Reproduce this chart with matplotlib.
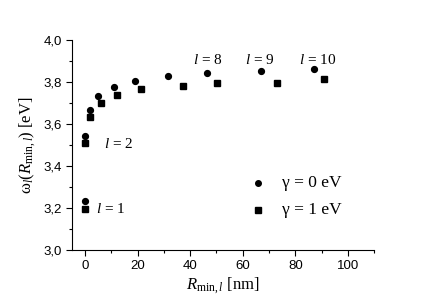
import matplotlib
matplotlib.use("Agg")
import matplotlib.pyplot as plt
from matplotlib.ticker import MultipleLocator

plt.rcParams['font.family'] = ['Liberation Sans', 'DejaVu Sans']
plt.rcParams['mathtext.fontset'] = 'custom'
plt.rcParams['mathtext.rm'] = 'Liberation Serif'
plt.rcParams['mathtext.it'] = 'Liberation Serif:italic'
plt.rcParams['mathtext.bf'] = 'Liberation Serif:bold'

# gamma = 0 eV
r_g0 = [0, 0, 1.9, 4.9, 11.1, 19.1, 31.4, 46.5, 66.9, 87.0]
w_g0 = [3.233, 3.543, 3.667, 3.733, 3.776, 3.805, 3.827, 3.843, 3.854, 3.864]
# gamma = 1 eV
r_g1 = [0, 0, 1.9, 6.2, 12.0, 21.2, 37.1, 50.2, 73.1, 91.1]
w_g1 = [3.194, 3.508, 3.632, 3.698, 3.737, 3.765, 3.780, 3.794, 3.795, 3.814]

# mode labels
lab_text = ['1', '2', '8', '9', '10']
lab_x = [4.2, 7.2, 41.0, 60.8, 81.4]
lab_y = [3.195, 3.505, 3.905, 3.905, 3.905]

fig = plt.figure(figsize=(4.32, 3.0), dpi=100)
ax = fig.add_axes([0.1667, 0.1667, 0.6993, 0.70])

ax.plot(r_g0, w_g0, 'o', color='black', markersize=4.2, linestyle='none')
ax.plot(r_g1, w_g1, 's', color='black', markersize=4, linestyle='none')

for t, x, y in zip(lab_text, lab_x, lab_y):
    ax.text(x, y, r'$l\,=\,' + t + '$', fontsize=11, va='center', ha='left')

# legend drawn by hand to match spacing
ax.plot([65.8], [3.319], 'o', color='black', markersize=4, clip_on=False)
ax.plot([65.8], [3.19], 's', color='black', markersize=3.8, clip_on=False)
ax.text(74.8, 3.319, 'γ = 0 eV', family='Liberation Serif', fontsize=12.5, va='center')
ax.text(74.8, 3.19, 'γ = 1 eV', family='Liberation Serif', fontsize=12.5, va='center')

ax.set_xlim(-5, 110)
ax.set_ylim(3.0, 4.0)
ax.xaxis.set_major_locator(MultipleLocator(20))
ax.xaxis.set_minor_locator(MultipleLocator(10))
ax.yaxis.set_major_locator(MultipleLocator(0.2))
ax.yaxis.set_minor_locator(MultipleLocator(0.1))
ax.xaxis.set_major_formatter(plt.FuncFormatter(lambda v, p: f'{v:.0f}'))
ax.yaxis.set_major_formatter(plt.FuncFormatter(lambda v, p: f'{v:.1f}'.replace('.', ',')))
ax.tick_params(which='both', direction='out', labelsize=9.5, width=0.8)
ax.tick_params(which='major', length=4)
ax.tick_params(which='minor', length=2.5)
for s in ['top', 'right']:
    ax.spines[s].set_visible(False)

ax.set_xlabel(r'$R_{\mathrm{min},l}$ [nm]', family='Liberation Serif', fontsize=12, labelpad=2)
ax.set_ylabel(r'$\mathrm{\omega}_l(R_{\mathrm{min},l})$ [eV]', family='Liberation Serif', fontsize=12, labelpad=4)

fig.savefig('out.png', dpi=100)
